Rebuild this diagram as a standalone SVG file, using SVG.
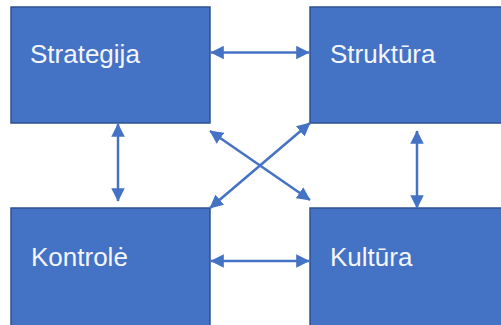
<svg xmlns="http://www.w3.org/2000/svg" width="501" height="325" viewBox="0 0 501 325">
  <style>
    .box { fill: #4472C4; stroke: #2F528F; stroke-width: 1.5; }
    .label { fill: #F4F6FB; font-family: "Liberation Sans", Arial, sans-serif; font-size: 26px; }
    .link { stroke: #4472C4; stroke-width: 2.5; fill: none; marker-start: url(#head); marker-end: url(#head); }
  </style>
  <defs>
    <!-- shared filled arrowhead, used at both ends of each two-way link -->
    <marker id="head" viewBox="0 0 10 10" refX="9.5" refY="5" markerWidth="5.4" markerHeight="5.4" orient="auto-start-reverse" markerUnits="strokeWidth">
      <path d="M0,0 L10,5 L0,10 z" fill="#4472C4"/>
    </marker>
  </defs>

  <g id="strategija">
    <rect class="box" x="11" y="7" width="199" height="116"/>
    <text class="label" x="30" y="63">Strategija</text>
  </g>
  <g id="struktura">
    <rect class="box" x="310" y="7" width="200" height="116"/>
    <text class="label" x="330" y="63">Struktūra</text>
  </g>
  <g id="kontrole">
    <rect class="box" x="11" y="208" width="199" height="130"/>
    <text class="label" x="31" y="266">Kontrolė</text>
  </g>
  <g id="kultura">
    <rect class="box" x="310" y="208" width="200" height="130"/>
    <text class="label" x="330" y="266">Kultūra</text>
  </g>

  <g id="connectors">
    <line class="link" x1="211" y1="52.5" x2="309" y2="52.5"/>
    <line class="link" x1="211" y1="261" x2="309" y2="261"/>
    <line class="link" x1="118" y1="124" x2="118" y2="201"/>
    <line class="link" x1="417" y1="131" x2="417" y2="208"/>
    <line class="link" x1="210" y1="131" x2="310" y2="200"/>
    <line class="link" x1="310" y1="123" x2="210" y2="208"/>
  </g>
</svg>
